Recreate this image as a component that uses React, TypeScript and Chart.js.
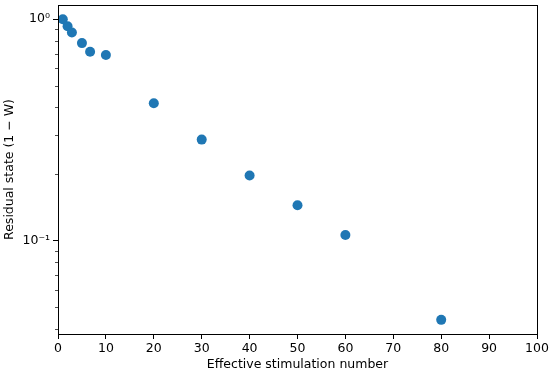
import React, { useEffect, useRef } from "react";
import { Chart, registerables } from "chart.js";

Chart.register(...registerables);

const stimulationNumber = [1, 2, 2.9, 5, 6.7, 10, 20, 30, 40, 50, 60, 80];
const residualState = [1.0, 0.93, 0.871, 0.78, 0.713, 0.689, 0.417, 0.286, 0.197, 0.1446, 0.106, 0.0439];
const xTicks = [0, 10, 20, 30, 40, 50, 60, 70, 80, 90, 100];
const yMajorTicks = [0.1, 1];
const yMinorTicks = [0.04, 0.05, 0.06, 0.07, 0.08, 0.09, 0.2, 0.3, 0.4, 0.5, 0.6, 0.7, 0.8, 0.9];
const yLabels: Record<string, string> = { "0.1": "10\u207B\u00B9", "1": "10\u2070" };
const X_MIN = 0;
const X_MAX = 100;
const Y_MIN = 0.0379;
const Y_MAX = 1.159;

const FONT = "'DejaVu Sans', sans-serif";

const framePlugin = {
  id: "frame",
  afterDraw(chart: any) {
    const { ctx } = chart;
    const x = chart.scales.x;
    const y = chart.scales.y;
    const left = Math.round(x.getPixelForValue(X_MIN));
    const right = Math.round(x.getPixelForValue(X_MAX));
    const top = Math.round(y.getPixelForValue(Y_MAX));
    const bottom = Math.round(y.getPixelForValue(Y_MIN));
    ctx.save();
    ctx.strokeStyle = "#000";
    ctx.lineWidth = 0.7;
    for (const v of yMinorTicks) {
      const py = Math.round(y.getPixelForValue(v)) + 0.5;
      ctx.beginPath();
      ctx.moveTo(left, py);
      ctx.lineTo(left - 3, py);
      ctx.stroke();
    }
    ctx.lineWidth = 1;
    ctx.strokeRect(left + 0.5, top + 0.5, right - left, bottom - top);
    ctx.restore();
  },
};

export default function App() {
  const ref = useRef<HTMLCanvasElement>(null);
  useEffect(() => {
    if (!ref.current) return;
    const chart = new Chart(ref.current, {
      type: "scatter",
      data: {
        datasets: [
          {
            data: stimulationNumber.map((x, i) => ({ x, y: residualState[i] })),
            backgroundColor: "#1f77b4",
            borderColor: "#1f77b4",
            pointRadius: 5,
            borderWidth: 0,
          },
        ],
      },
      options: {
        animation: false,
        responsive: false,
        maintainAspectRatio: false,
        layout: { padding: 0 },
        plugins: { legend: { display: false }, tooltip: { enabled: false } },
        scales: {
          x: {
            type: "linear",
            min: X_MIN,
            max: X_MAX,
            afterBuildTicks: (s: any) => {
              s.ticks = xTicks.map((v) => ({ value: v }));
            },
            afterFit: (s: any) => {
              s.height = 39;
              s.paddingLeft = 0;
              s.paddingRight = 13;
            },
            grid: { drawOnChartArea: false, tickLength: 5, color: "#000", tickColor: "#000" },
            border: { display: false },
            ticks: { color: "#000", font: { family: FONT, size: 12.5 }, padding: 2, autoSkip: false, maxRotation: 0 },
            title: {
              display: true,
              text: "Effective stimulation number",
              color: "#000",
              font: { family: FONT, size: 12.5 },
              padding: { top: 0, bottom: 1 },
            },
          },
          y: {
            type: "logarithmic",
            min: Y_MIN,
            max: Y_MAX,
            afterBuildTicks: (s: any) => {
              s.ticks = yMajorTicks.map((v) => ({ value: v, major: true }));
            },
            afterFit: (s: any) => {
              s.width = 58;
              s.paddingTop = 1;
              s.paddingBottom = 0;
            },
            grid: { drawOnChartArea: false, tickLength: 5, color: "#000", tickColor: "#000" },
            border: { display: false },
            ticks: {
              color: "#000",
              font: { family: FONT, size: 12.5 },
              padding: 3,
              autoSkip: false,
              callback: (v: any) => yLabels[String(v)] ?? "",
            },
            title: {
              display: true,
              text: "Residual state (1 \u2212 W)",
              color: "#000",
              font: { family: FONT, size: 12.5 },
              padding: { top: 2, bottom: 0 },
            },
          },
        },
      },
      plugins: [framePlugin],
    });
    return () => chart.destroy();
  }, []);
  return (
    <div style={{ position: "fixed", left: 0, top: 0, width: 550, height: 373, background: "#fff" }}>
      <canvas ref={ref} width={550} height={373} />
    </div>
  );
}
